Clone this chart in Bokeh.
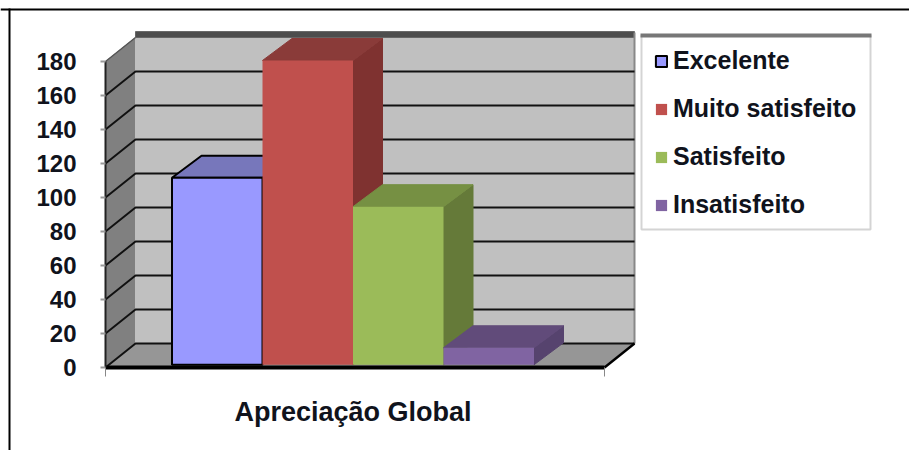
from bokeh.embed import file_html
from bokeh.models import FixedTicker, Legend, LegendItem, LinearAxis, Range1d
from bokeh.plotting import figure
from bokeh.resources import INLINE

# Survey responses per satisfaction class
series_names = ["Excelente", "Muito satisfeito", "Satisfeito", "Insatisfeito"]
series_values = [110, 179, 93, 10]
front_colors = ["#9999ff", "#c0504d", "#9bbb59", "#8064a2"]
top_colors = ["#7777bb", "#8a3b39", "#769043", "#614b7a"]
side_colors = ["#66668f", "#7f3230", "#657a39", "#56436e"]
outline_colors = ["#000000", None, None, None]
value_ticks = [0, 20, 40, 60, 80, 100, 120, 140, 160, 180]
category_label = "Apreciação Global"

FONT = "Liberation Sans"
TEXT = "#10131c"
WIDTH, HEIGHT = 909, 450
PX_SLOT = 90.5    # pixels per bar slot
PX_UNIT = 1.7     # pixels per value unit
ORIGIN_X, ORIGIN_Y = 171.5, 367  # pixel of the first bar's left edge and of value 0


def slot(px):
    return -0.5 + (px - ORIGIN_X) / PX_SLOT


def val(px):
    return (ORIGIN_Y - px) / PX_UNIT


x_left, x_right = slot(105), slot(604)
wall_dx, wall_dy = 30 / PX_SLOT, 24 / PX_UNIT
bar_dx, bar_dy = 29.5 / PX_SLOT, 22 / PX_UNIT
bar_base = 1.6
wall_top = 180

p = figure(
    width=WIDTH, height=HEIGHT, output_backend="svg", toolbar_location=None,
    x_axis_type=None, y_axis_type=None, min_border=0,
    x_range=Range1d(slot(0), slot(WIDTH)),
    y_range=Range1d(val(HEIGHT), val(0)),
    background_fill_color="white", border_fill_color="white", outline_line_color=None,
)
p.grid.visible = False

# Page frame: top and left rules
p.quad(left=slot(0), right=slot(WIDTH), top=val(8), bottom=val(10), fill_color="black", line_color=None)
p.quad(left=slot(8), right=slot(10), top=val(8), bottom=val(HEIGHT), fill_color="black", line_color=None)

# Chart walls and floor
p.patch([x_left, x_left + wall_dx, x_left + wall_dx, x_left],
        [0, wall_dy, wall_top + wall_dy, wall_top], fill_color="#808080", line_color="#808080")
p.patch([x_left + wall_dx, x_right + wall_dx, x_right + wall_dx, x_left + wall_dx],
        [wall_dy, wall_dy, wall_top + wall_dy, wall_top + wall_dy], fill_color="#c0c0c0", line_color="#c0c0c0")
p.patch([x_left, x_right, x_right + wall_dx, x_left + wall_dx],
        [0, 0, wall_dy, wall_dy], fill_color="#969696", line_color="#969696")
p.quad(left=x_left + wall_dx, right=x_right + wall_dx, bottom=wall_top + wall_dy,
       top=wall_top + wall_dy + 3.5, fill_color="#4d4d4d", line_color="#666666")
p.segment(x_right + wall_dx, wall_dy, x_right + wall_dx, wall_top + wall_dy + 3, line_color="#888888", line_width=2)

# Gridlines run across the back wall and down the side wall
for v in value_ticks[:-1]:
    p.line([x_left, x_left + wall_dx, x_right + wall_dx], [v, v + wall_dy, v + wall_dy],
           line_color="#111111", line_width=2)
p.line([x_right, x_right + wall_dx], [0, wall_dy], line_color="black", line_width=2.5)
p.line([x_left, x_left + wall_dx], [wall_top, wall_top + wall_dy], line_color="#555555", line_width=1.5)

# Bars, left to right so that each one overlaps its neighbour's depth
items = []
for i, name in enumerate(series_names):
    top = bar_base + series_values[i]
    x0, x1 = i - 0.5, i + 0.5
    outline = outline_colors[i]
    p.patch([x1, x1 + bar_dx, x1 + bar_dx, x1],
            [bar_base, bar_base + bar_dy, top + bar_dy, top],
            fill_color=side_colors[i], line_color=side_colors[i])
    p.patch([x0, x1, x1 + bar_dx, x0 + bar_dx],
            [top, top, top + bar_dy, top + bar_dy],
            fill_color=top_colors[i], line_color=outline or top_colors[i], line_width=2 if outline else 1)
    front = p.vbar(x=[i], top=[top], bottom=[bar_base], width=1, fill_color=front_colors[i],
                   line_color=outline, line_width=2)
    items.append(LegendItem(label=name, renderers=[front]))

# Axes, limited to the chart's own extent
y_axis = LinearAxis(
    ticker=FixedTicker(ticks=value_ticks), fixed_location=x_left, bounds=(0, wall_top),
    axis_line_color="#222222", axis_line_width=2,
    major_tick_in=0, major_tick_out=5, major_tick_line_color="#999999", major_tick_line_width=2,
    minor_tick_line_color=None, major_label_standoff=24,
    major_label_text_font=FONT, major_label_text_font_size="24px",
    major_label_text_color=TEXT, major_label_text_font_style="bold",
)
p.add_layout(y_axis, "left")

x_axis = LinearAxis(
    ticker=FixedTicker(ticks=[1.5], minor_ticks=[x_left, x_right]), fixed_location=0,
    bounds=(x_left, x_right),
    axis_line_color="black", axis_line_width=4,
    major_tick_in=0, major_tick_out=0, minor_tick_in=0, minor_tick_out=9,
    minor_tick_line_color="#888888", minor_tick_line_width=1,
    major_label_overrides={1.5: category_label}, major_label_standoff=20,
    major_label_text_font=FONT, major_label_text_font_size="27px", major_label_text_color=TEXT,
    major_label_text_font_style="bold",
)
p.add_layout(x_axis, "below")

# Legend panel with a dark band along its top edge
p.quad(left=slot(641), right=slot(870), top=val(35), bottom=val(229), fill_color="white",
       line_color="#d4d4d4", line_width=2)
p.quad(left=slot(640), right=slot(871), top=val(33), bottom=val(37), fill_color="#777777", line_color=None)

legend = Legend(
    items=items, location=(654, 231), orientation="vertical",
    glyph_width=14, glyph_height=14, label_standoff=5, spacing=19, padding=13, margin=0,
    label_text_font=FONT, label_text_font_size="25px", label_text_color=TEXT,
    label_text_font_style="bold",
    background_fill_alpha=0, border_line_color=None,
)
p.add_layout(legend, "center")

open("out.html", "w").write(file_html(p, INLINE))
